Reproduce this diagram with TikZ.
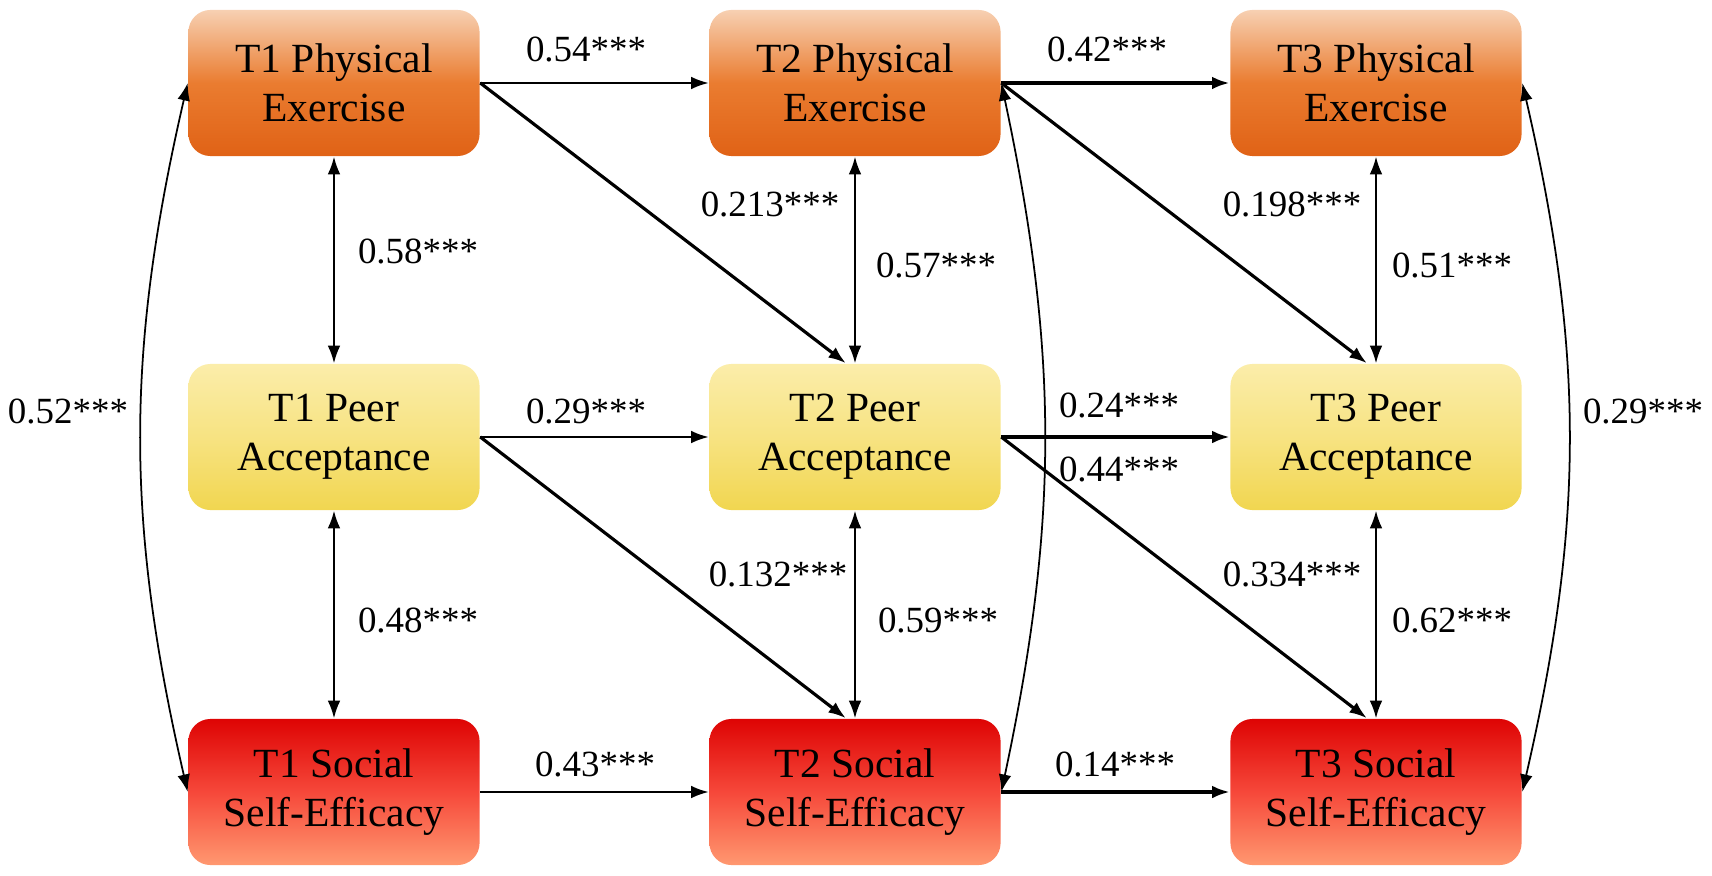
\documentclass[tikz,border=0pt]{standalone}
\usepackage{fontspec}
\setmainfont{Liberation Serif}
\usetikzlibrary{arrows.meta}
\definecolor{peTop}{RGB}{247,208,178}
\definecolor{peMid}{RGB}{234,124,48}
\definecolor{peBot}{RGB}{224,98,22}
\definecolor{paTop}{RGB}{251,237,170}
\definecolor{paMid}{RGB}{247,227,130}
\definecolor{paBot}{RGB}{241,214,80}
\definecolor{seTop}{RGB}{222,4,4}
\definecolor{seMid}{RGB}{246,72,58}
\definecolor{seBot}{RGB}{255,152,112}
\begin{document}
\begin{tikzpicture}[x=0.01cm, y=-0.01cm, >={Latex[length=5pt,width=3.6pt]},
    box/.style={rounded corners=0.22cm, minimum width=2.91cm, minimum height=1.46cm,
      align=center, inner sep=0pt, font=\fontsize{11.8}{14}\selectfont},
    pe/.style={box, top color=peTop, bottom color=peBot, middle color=peMid},
    pa/.style={box, top color=paTop, bottom color=paBot, middle color=paMid},
    se/.style={box, top color=seTop, bottom color=seBot, middle color=seMid},
    coef/.style={font=\fontsize{10.5}{12}\selectfont},
    reg/.style={->, line width=0.9pt},
    cov/.style={<->, line width=0.5pt}]
    \useasboundingbox (0,0) rectangle (1712,876);

    % variables
    \node[pe] (pe1) at (334,83) {T1 Physical\\Exercise};
    \node[pe] (pe2) at (855,83) {T2 Physical\\Exercise};
    \node[pe] (pe3) at (1376,83) {T3 Physical\\Exercise};
    \node[pa] (pa1) at (334,437) {T1 Peer\\Acceptance};
    \node[pa] (pa2) at (855,437) {T2 Peer\\Acceptance};
    \node[pa] (pa3) at (1376,437) {T3 Peer\\Acceptance};
    \node[se] (se1) at (334,792) {T1 Social\\Self-Efficacy};
    \node[se] (se2) at (855,792) {T2 Social\\Self-Efficacy};
    \node[se] (se3) at (1376,792) {T3 Social\\Self-Efficacy};

    % paths
    \draw[reg, line width=0.6pt] (pe1) -- (pe2);
    \draw[reg, line width=1.4pt] (pe2) -- (pe3);
    \draw[reg, line width=0.6pt] (pa1) -- (pa2);
    \draw[reg] (pa2) -- (pa3);
    \draw[reg, line width=0.6pt] (se1) -- (se2);
    \draw[reg] (se2) -- (se3);
    \draw[reg] (pe1.east) -- (pa2.97);
    \draw[reg] (pe2.east) -- (pa3.97);
    \draw[reg] (pa1.east) -- (se2.97);
    \draw[reg] (pa2.east) -- (se3.97);

    % covariances
    \draw[cov] (pe1) -- (pa1);
    \draw[cov] (pa1) -- (se1);
    \draw[cov] (pe2) -- (pa2);
    \draw[cov] (pa2) -- (se2);
    \draw[cov] (pe3) -- (pa3);
    \draw[cov] (pa3) -- (se3);
    \draw[cov] (pe1.west) to[bend right=13] (se1.west);
    \draw[cov] (pe2.east) to[bend left=12] (se2.east);
    \draw[cov] (pe3.east) to[bend left=13] (se3.east);

    % coefficients
    \node[coef] (c1) at (586,49) {0.54***};
    \node[coef] (c2) at (1107,49) {0.42***};
    \node[coef] (c3) at (770,204) {0.213***};
    \node[coef] (c4) at (1292,204) {0.198***};
    \node[coef] (c5) at (418,251) {0.58***};
    \node[coef] (c6) at (936,265) {0.57***};
    \node[coef] (c7) at (1452,265) {0.51***};
    \node[coef] (c8) at (68,411) {0.52***};
    \node[coef] (c9) at (1643,411) {0.29***};
    \node[coef] (c10) at (586,411) {0.29***};
    \node[coef] (c11) at (1119,405) {0.24***};
    \node[coef] (c12) at (1119,469) {0.44***};
    \node[coef] (c13) at (778,574) {0.132***};
    \node[coef] (c14) at (1292,574) {0.334***};
    \node[coef] (c15) at (418,620) {0.48***};
    \node[coef] (c16) at (938,620) {0.59***};
    \node[coef] (c17) at (1452,620) {0.62***};
    \node[coef] (c18) at (595,764) {0.43***};
    \node[coef] (c19) at (1115,764) {0.14***};
\end{tikzpicture}
\end{document}
